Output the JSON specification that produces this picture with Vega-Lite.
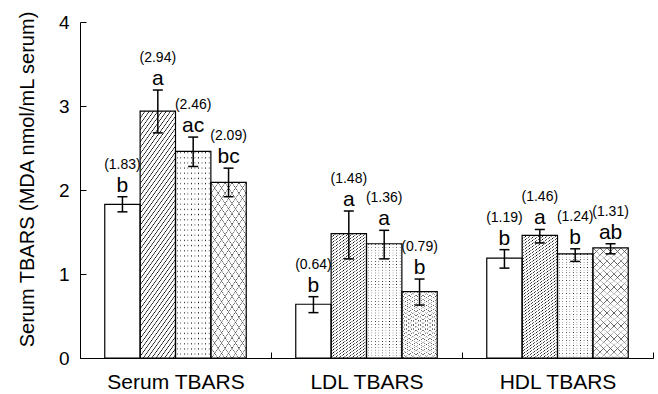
{
  "$schema": "https://vega.github.io/schema/vega-lite/v6.json",
  "width": 573,
  "height": 336,
  "autosize": {"type": "none"},
  "padding": {"left": 80, "top": 22, "right": 5, "bottom": 36},
  "background": "white",
  "config": {
    "view": {"stroke": null},
    "font": "Liberation Sans",
    "axis": {"domainColor": "black", "tickColor": "black", "labelColor": "black", "titleColor": "black", "grid": false, "domainWidth": 1, "tickWidth": 1, "labelFont": "Liberation Sans", "titleFont": "Liberation Sans"},
    "axisY": {"tickSize": -6, "labelPadding": 17, "labelFontSize": 19, "titleFontSize": 20, "titleFontWeight": "normal", "titleX": -47, "titleY": 157, "titleAngle": -90, "titleAlign": "center", "titleBaseline": "alphabetic", "tickCount": 5}
  },
  "data": {"values": [
    {"group": "Serum TBARS", "series": "A", "mean": 1.83, "lo": 1.74, "hi": 1.92, "letter": "b", "label": "(1.83)"},
    {"group": "Serum TBARS", "series": "B", "mean": 2.94, "lo": 2.68, "hi": 3.19, "letter": "a", "label": "(2.94)"},
    {"group": "Serum TBARS", "series": "C", "mean": 2.46, "lo": 2.28, "hi": 2.63, "letter": "ac", "label": "(2.46)"},
    {"group": "Serum TBARS", "series": "D", "mean": 2.09, "lo": 1.92, "hi": 2.26, "letter": "bc", "label": "(2.09)"},
    {"group": "LDL TBARS", "series": "A", "mean": 0.64, "lo": 0.54, "hi": 0.73, "letter": "b", "label": "(0.64)"},
    {"group": "LDL TBARS", "series": "B", "mean": 1.48, "lo": 1.18, "hi": 1.75, "letter": "a", "label": "(1.48)"},
    {"group": "LDL TBARS", "series": "C", "mean": 1.36, "lo": 1.18, "hi": 1.52, "letter": "a", "label": "(1.36)"},
    {"group": "LDL TBARS", "series": "D", "mean": 0.79, "lo": 0.63, "hi": 0.94, "letter": "b", "label": "(0.79)"},
    {"group": "HDL TBARS", "series": "A", "mean": 1.19, "lo": 1.07, "hi": 1.29, "letter": "b", "label": "(1.19)"},
    {"group": "HDL TBARS", "series": "B", "mean": 1.46, "lo": 1.37, "hi": 1.53, "letter": "a", "label": "(1.46)"},
    {"group": "HDL TBARS", "series": "C", "mean": 1.24, "lo": 1.15, "hi": 1.30, "letter": "b", "label": "(1.24)"},
    {"group": "HDL TBARS", "series": "D", "mean": 1.31, "lo": 1.24, "hi": 1.36, "letter": "ab", "label": "(1.31)"}
  ]},
  "encoding": {
    "x": {"field": "group", "type": "nominal", "sort": ["Serum TBARS", "LDL TBARS", "HDL TBARS"], "scale": {"paddingInner": 0, "paddingOuter": 0}, "axis": {"title": null, "tickBand": "extent", "labelAngle": 0, "labelFontSize": 21, "labelPadding": 19, "tickSize": -6}},
    "xOffset": {"field": "series", "type": "nominal", "sort": ["A", "B", "C", "D"], "scale": {"paddingOuter": 0.7, "paddingInner": 0}}
  },
  "layer": [
    {
      "transform": [{"filter": "datum.series === 'B'"}],
      "mark": {"type": "bar", "strokeWidth": 0, "fill": {"gradient": "linear", "x1": 0, "y1": 0, "x2": 0.232, "y2": 1.16, "stops": [
        {"offset": 0, "color": "#fff"}, {"offset": 0.0035, "color": "#000"}, {"offset": 0.007, "color": "#fff"},
        {"offset": 0.02, "color": "#fff"}, {"offset": 0.0235, "color": "#000"}, {"offset": 0.027, "color": "#fff"},
        {"offset": 0.04, "color": "#fff"}, {"offset": 0.0435, "color": "#000"}, {"offset": 0.047, "color": "#fff"},
        {"offset": 0.06, "color": "#fff"}, {"offset": 0.0635, "color": "#000"}, {"offset": 0.067, "color": "#fff"},
        {"offset": 0.08, "color": "#fff"}, {"offset": 0.0835, "color": "#000"}, {"offset": 0.087, "color": "#fff"},
        {"offset": 0.1, "color": "#fff"}, {"offset": 0.1035, "color": "#000"}, {"offset": 0.107, "color": "#fff"},
        {"offset": 0.12, "color": "#fff"}, {"offset": 0.1235, "color": "#000"}, {"offset": 0.127, "color": "#fff"},
        {"offset": 0.14, "color": "#fff"}, {"offset": 0.1435, "color": "#000"}, {"offset": 0.147, "color": "#fff"},
        {"offset": 0.16, "color": "#fff"}, {"offset": 0.1635, "color": "#000"}, {"offset": 0.167, "color": "#fff"},
        {"offset": 0.18, "color": "#fff"}, {"offset": 0.1835, "color": "#000"}, {"offset": 0.187, "color": "#fff"},
        {"offset": 0.2, "color": "#fff"}, {"offset": 0.2035, "color": "#000"}, {"offset": 0.207, "color": "#fff"},
        {"offset": 0.22, "color": "#fff"}, {"offset": 0.2235, "color": "#000"}, {"offset": 0.227, "color": "#fff"},
        {"offset": 0.24, "color": "#fff"}, {"offset": 0.2435, "color": "#000"}, {"offset": 0.247, "color": "#fff"},
        {"offset": 0.26, "color": "#fff"}, {"offset": 0.2635, "color": "#000"}, {"offset": 0.267, "color": "#fff"},
        {"offset": 0.28, "color": "#fff"}, {"offset": 0.2835, "color": "#000"}, {"offset": 0.287, "color": "#fff"},
        {"offset": 0.3, "color": "#fff"}, {"offset": 0.3035, "color": "#000"}, {"offset": 0.307, "color": "#fff"},
        {"offset": 0.32, "color": "#fff"}, {"offset": 0.3235, "color": "#000"}, {"offset": 0.327, "color": "#fff"},
        {"offset": 0.34, "color": "#fff"}, {"offset": 0.3435, "color": "#000"}, {"offset": 0.347, "color": "#fff"},
        {"offset": 0.36, "color": "#fff"}, {"offset": 0.3635, "color": "#000"}, {"offset": 0.367, "color": "#fff"},
        {"offset": 0.38, "color": "#fff"}, {"offset": 0.3835, "color": "#000"}, {"offset": 0.387, "color": "#fff"},
        {"offset": 0.4, "color": "#fff"}, {"offset": 0.4035, "color": "#000"}, {"offset": 0.407, "color": "#fff"},
        {"offset": 0.42, "color": "#fff"}, {"offset": 0.4235, "color": "#000"}, {"offset": 0.427, "color": "#fff"},
        {"offset": 0.44, "color": "#fff"}, {"offset": 0.4435, "color": "#000"}, {"offset": 0.447, "color": "#fff"},
        {"offset": 0.46, "color": "#fff"}, {"offset": 0.4635, "color": "#000"}, {"offset": 0.467, "color": "#fff"},
        {"offset": 0.48, "color": "#fff"}, {"offset": 0.4835, "color": "#000"}, {"offset": 0.487, "color": "#fff"},
        {"offset": 0.5, "color": "#fff"}, {"offset": 0.5035, "color": "#000"}, {"offset": 0.507, "color": "#fff"},
        {"offset": 0.52, "color": "#fff"}, {"offset": 0.5235, "color": "#000"}, {"offset": 0.527, "color": "#fff"},
        {"offset": 0.54, "color": "#fff"}, {"offset": 0.5435, "color": "#000"}, {"offset": 0.547, "color": "#fff"},
        {"offset": 0.56, "color": "#fff"}, {"offset": 0.5635, "color": "#000"}, {"offset": 0.567, "color": "#fff"},
        {"offset": 0.58, "color": "#fff"}, {"offset": 0.5835, "color": "#000"}, {"offset": 0.587, "color": "#fff"},
        {"offset": 0.6, "color": "#fff"}, {"offset": 0.6035, "color": "#000"}, {"offset": 0.607, "color": "#fff"},
        {"offset": 0.62, "color": "#fff"}, {"offset": 0.6235, "color": "#000"}, {"offset": 0.627, "color": "#fff"},
        {"offset": 0.64, "color": "#fff"}, {"offset": 0.6435, "color": "#000"}, {"offset": 0.647, "color": "#fff"},
        {"offset": 0.66, "color": "#fff"}, {"offset": 0.6635, "color": "#000"}, {"offset": 0.667, "color": "#fff"},
        {"offset": 0.68, "color": "#fff"}, {"offset": 0.6835, "color": "#000"}, {"offset": 0.687, "color": "#fff"},
        {"offset": 0.7, "color": "#fff"}, {"offset": 0.7035, "color": "#000"}, {"offset": 0.707, "color": "#fff"},
        {"offset": 0.72, "color": "#fff"}, {"offset": 0.7235, "color": "#000"}, {"offset": 0.727, "color": "#fff"},
        {"offset": 0.74, "color": "#fff"}, {"offset": 0.7435, "color": "#000"}, {"offset": 0.747, "color": "#fff"},
        {"offset": 0.76, "color": "#fff"}, {"offset": 0.7635, "color": "#000"}, {"offset": 0.767, "color": "#fff"},
        {"offset": 0.78, "color": "#fff"}, {"offset": 0.7835, "color": "#000"}, {"offset": 0.787, "color": "#fff"},
        {"offset": 0.8, "color": "#fff"}, {"offset": 0.8035, "color": "#000"}, {"offset": 0.807, "color": "#fff"},
        {"offset": 0.82, "color": "#fff"}, {"offset": 0.8235, "color": "#000"}, {"offset": 0.827, "color": "#fff"},
        {"offset": 0.84, "color": "#fff"}, {"offset": 0.8435, "color": "#000"}, {"offset": 0.847, "color": "#fff"},
        {"offset": 0.86, "color": "#fff"}, {"offset": 0.8635, "color": "#000"}, {"offset": 0.867, "color": "#fff"},
        {"offset": 0.88, "color": "#fff"}, {"offset": 0.8835, "color": "#000"}, {"offset": 0.887, "color": "#fff"},
        {"offset": 0.9, "color": "#fff"}, {"offset": 0.9035, "color": "#000"}, {"offset": 0.907, "color": "#fff"},
        {"offset": 0.92, "color": "#fff"}, {"offset": 0.9235, "color": "#000"}, {"offset": 0.927, "color": "#fff"},
        {"offset": 0.94, "color": "#fff"}, {"offset": 0.9435, "color": "#000"}, {"offset": 0.947, "color": "#fff"},
        {"offset": 0.96, "color": "#fff"}, {"offset": 0.9635, "color": "#000"}, {"offset": 0.967, "color": "#fff"},
        {"offset": 0.98, "color": "#fff"}, {"offset": 0.9835, "color": "#000"}, {"offset": 0.987, "color": "#fff"}
      ]}},
      "encoding": {"y": {"field": "mean", "type": "quantitative", "title": "Serum TBARS (MDA nmol/mL serum)", "scale": {"domain": [0, 4], "nice": false}}}
    },
    {
      "transform": [{"filter": "datum.series === 'C'"}],
      "mark": {"type": "bar", "strokeWidth": 0, "fill": {"gradient": "linear", "x1": 0, "y1": 0, "x2": 1, "y2": 0, "stops": [
        {"offset": 0.03, "color": "#fff"}, {"offset": 0.05, "color": "#000"}, {"offset": 0.07, "color": "#fff"},
        {"offset": 0.13, "color": "#fff"}, {"offset": 0.15, "color": "#000"}, {"offset": 0.17, "color": "#fff"},
        {"offset": 0.23, "color": "#fff"}, {"offset": 0.25, "color": "#000"}, {"offset": 0.27, "color": "#fff"},
        {"offset": 0.33, "color": "#fff"}, {"offset": 0.35, "color": "#000"}, {"offset": 0.37, "color": "#fff"},
        {"offset": 0.43, "color": "#fff"}, {"offset": 0.45, "color": "#000"}, {"offset": 0.47, "color": "#fff"},
        {"offset": 0.53, "color": "#fff"}, {"offset": 0.55, "color": "#000"}, {"offset": 0.57, "color": "#fff"},
        {"offset": 0.63, "color": "#fff"}, {"offset": 0.65, "color": "#000"}, {"offset": 0.67, "color": "#fff"},
        {"offset": 0.73, "color": "#fff"}, {"offset": 0.75, "color": "#000"}, {"offset": 0.77, "color": "#fff"},
        {"offset": 0.83, "color": "#fff"}, {"offset": 0.85, "color": "#000"}, {"offset": 0.87, "color": "#fff"},
        {"offset": 0.93, "color": "#fff"}, {"offset": 0.95, "color": "#000"}, {"offset": 0.97, "color": "#fff"}
      ]}},
      "encoding": {"y": {"field": "mean", "type": "quantitative", "title": "Serum TBARS (MDA nmol/mL serum)", "scale": {"domain": [0, 4], "nice": false}}}
    },
    {
      "transform": [{"filter": "datum.series === 'C'"}],
      "mark": {"type": "bar", "strokeWidth": 0, "fill": {"gradient": "linear", "x1": 0, "y1": 0, "x2": 0, "y2": 1, "stops": [
        {"offset": 0, "color": "#fff"}, {"offset": 0.006, "color": "rgba(255,255,255,0)"}, {"offset": 0.012, "color": "#fff"},
        {"offset": 0.025, "color": "#fff"}, {"offset": 0.031, "color": "rgba(255,255,255,0)"}, {"offset": 0.037, "color": "#fff"},
        {"offset": 0.05, "color": "#fff"}, {"offset": 0.056, "color": "rgba(255,255,255,0)"}, {"offset": 0.062, "color": "#fff"},
        {"offset": 0.075, "color": "#fff"}, {"offset": 0.081, "color": "rgba(255,255,255,0)"}, {"offset": 0.087, "color": "#fff"},
        {"offset": 0.1, "color": "#fff"}, {"offset": 0.106, "color": "rgba(255,255,255,0)"}, {"offset": 0.112, "color": "#fff"},
        {"offset": 0.125, "color": "#fff"}, {"offset": 0.131, "color": "rgba(255,255,255,0)"}, {"offset": 0.137, "color": "#fff"},
        {"offset": 0.15, "color": "#fff"}, {"offset": 0.156, "color": "rgba(255,255,255,0)"}, {"offset": 0.162, "color": "#fff"},
        {"offset": 0.175, "color": "#fff"}, {"offset": 0.181, "color": "rgba(255,255,255,0)"}, {"offset": 0.187, "color": "#fff"},
        {"offset": 0.2, "color": "#fff"}, {"offset": 0.206, "color": "rgba(255,255,255,0)"}, {"offset": 0.212, "color": "#fff"},
        {"offset": 0.225, "color": "#fff"}, {"offset": 0.231, "color": "rgba(255,255,255,0)"}, {"offset": 0.237, "color": "#fff"},
        {"offset": 0.25, "color": "#fff"}, {"offset": 0.256, "color": "rgba(255,255,255,0)"}, {"offset": 0.262, "color": "#fff"},
        {"offset": 0.275, "color": "#fff"}, {"offset": 0.281, "color": "rgba(255,255,255,0)"}, {"offset": 0.287, "color": "#fff"},
        {"offset": 0.3, "color": "#fff"}, {"offset": 0.306, "color": "rgba(255,255,255,0)"}, {"offset": 0.312, "color": "#fff"},
        {"offset": 0.325, "color": "#fff"}, {"offset": 0.331, "color": "rgba(255,255,255,0)"}, {"offset": 0.337, "color": "#fff"},
        {"offset": 0.35, "color": "#fff"}, {"offset": 0.356, "color": "rgba(255,255,255,0)"}, {"offset": 0.362, "color": "#fff"},
        {"offset": 0.375, "color": "#fff"}, {"offset": 0.381, "color": "rgba(255,255,255,0)"}, {"offset": 0.387, "color": "#fff"},
        {"offset": 0.4, "color": "#fff"}, {"offset": 0.406, "color": "rgba(255,255,255,0)"}, {"offset": 0.412, "color": "#fff"},
        {"offset": 0.425, "color": "#fff"}, {"offset": 0.431, "color": "rgba(255,255,255,0)"}, {"offset": 0.437, "color": "#fff"},
        {"offset": 0.45, "color": "#fff"}, {"offset": 0.456, "color": "rgba(255,255,255,0)"}, {"offset": 0.462, "color": "#fff"},
        {"offset": 0.475, "color": "#fff"}, {"offset": 0.481, "color": "rgba(255,255,255,0)"}, {"offset": 0.487, "color": "#fff"},
        {"offset": 0.5, "color": "#fff"}, {"offset": 0.506, "color": "rgba(255,255,255,0)"}, {"offset": 0.512, "color": "#fff"},
        {"offset": 0.525, "color": "#fff"}, {"offset": 0.531, "color": "rgba(255,255,255,0)"}, {"offset": 0.537, "color": "#fff"},
        {"offset": 0.55, "color": "#fff"}, {"offset": 0.556, "color": "rgba(255,255,255,0)"}, {"offset": 0.562, "color": "#fff"},
        {"offset": 0.575, "color": "#fff"}, {"offset": 0.581, "color": "rgba(255,255,255,0)"}, {"offset": 0.587, "color": "#fff"},
        {"offset": 0.6, "color": "#fff"}, {"offset": 0.606, "color": "rgba(255,255,255,0)"}, {"offset": 0.612, "color": "#fff"},
        {"offset": 0.625, "color": "#fff"}, {"offset": 0.631, "color": "rgba(255,255,255,0)"}, {"offset": 0.637, "color": "#fff"},
        {"offset": 0.65, "color": "#fff"}, {"offset": 0.656, "color": "rgba(255,255,255,0)"}, {"offset": 0.662, "color": "#fff"},
        {"offset": 0.675, "color": "#fff"}, {"offset": 0.681, "color": "rgba(255,255,255,0)"}, {"offset": 0.687, "color": "#fff"},
        {"offset": 0.7, "color": "#fff"}, {"offset": 0.706, "color": "rgba(255,255,255,0)"}, {"offset": 0.712, "color": "#fff"},
        {"offset": 0.725, "color": "#fff"}, {"offset": 0.731, "color": "rgba(255,255,255,0)"}, {"offset": 0.737, "color": "#fff"},
        {"offset": 0.75, "color": "#fff"}, {"offset": 0.756, "color": "rgba(255,255,255,0)"}, {"offset": 0.762, "color": "#fff"},
        {"offset": 0.775, "color": "#fff"}, {"offset": 0.781, "color": "rgba(255,255,255,0)"}, {"offset": 0.787, "color": "#fff"},
        {"offset": 0.8, "color": "#fff"}, {"offset": 0.806, "color": "rgba(255,255,255,0)"}, {"offset": 0.812, "color": "#fff"},
        {"offset": 0.825, "color": "#fff"}, {"offset": 0.831, "color": "rgba(255,255,255,0)"}, {"offset": 0.837, "color": "#fff"},
        {"offset": 0.85, "color": "#fff"}, {"offset": 0.856, "color": "rgba(255,255,255,0)"}, {"offset": 0.862, "color": "#fff"},
        {"offset": 0.875, "color": "#fff"}, {"offset": 0.881, "color": "rgba(255,255,255,0)"}, {"offset": 0.887, "color": "#fff"},
        {"offset": 0.9, "color": "#fff"}, {"offset": 0.906, "color": "rgba(255,255,255,0)"}, {"offset": 0.912, "color": "#fff"},
        {"offset": 0.925, "color": "#fff"}, {"offset": 0.931, "color": "rgba(255,255,255,0)"}, {"offset": 0.937, "color": "#fff"},
        {"offset": 0.95, "color": "#fff"}, {"offset": 0.956, "color": "rgba(255,255,255,0)"}, {"offset": 0.962, "color": "#fff"},
        {"offset": 0.975, "color": "#fff"}, {"offset": 0.981, "color": "rgba(255,255,255,0)"}, {"offset": 0.987, "color": "#fff"}
      ]}},
      "encoding": {"y": {"field": "mean", "type": "quantitative", "title": "Serum TBARS (MDA nmol/mL serum)", "scale": {"domain": [0, 4], "nice": false}}}
    },
    {
      "transform": [{"filter": "datum.series === 'D'"}],
      "mark": {"type": "bar", "strokeWidth": 0, "fill": {"gradient": "linear", "x1": 0, "y1": 0, "x2": 0.36, "y2": 1.2, "stops": [
        {"offset": 0, "color": "#fff"}, {"offset": 0.004, "color": "#555"}, {"offset": 0.008, "color": "#fff"},
        {"offset": 0.045, "color": "#fff"}, {"offset": 0.049, "color": "#555"}, {"offset": 0.053, "color": "#fff"},
        {"offset": 0.09, "color": "#fff"}, {"offset": 0.094, "color": "#555"}, {"offset": 0.098, "color": "#fff"},
        {"offset": 0.135, "color": "#fff"}, {"offset": 0.139, "color": "#555"}, {"offset": 0.143, "color": "#fff"},
        {"offset": 0.18, "color": "#fff"}, {"offset": 0.184, "color": "#555"}, {"offset": 0.188, "color": "#fff"},
        {"offset": 0.225, "color": "#fff"}, {"offset": 0.229, "color": "#555"}, {"offset": 0.233, "color": "#fff"},
        {"offset": 0.27, "color": "#fff"}, {"offset": 0.274, "color": "#555"}, {"offset": 0.278, "color": "#fff"},
        {"offset": 0.315, "color": "#fff"}, {"offset": 0.319, "color": "#555"}, {"offset": 0.323, "color": "#fff"},
        {"offset": 0.36, "color": "#fff"}, {"offset": 0.364, "color": "#555"}, {"offset": 0.368, "color": "#fff"},
        {"offset": 0.405, "color": "#fff"}, {"offset": 0.409, "color": "#555"}, {"offset": 0.413, "color": "#fff"},
        {"offset": 0.45, "color": "#fff"}, {"offset": 0.454, "color": "#555"}, {"offset": 0.458, "color": "#fff"},
        {"offset": 0.495, "color": "#fff"}, {"offset": 0.499, "color": "#555"}, {"offset": 0.503, "color": "#fff"},
        {"offset": 0.54, "color": "#fff"}, {"offset": 0.544, "color": "#555"}, {"offset": 0.548, "color": "#fff"},
        {"offset": 0.585, "color": "#fff"}, {"offset": 0.589, "color": "#555"}, {"offset": 0.593, "color": "#fff"},
        {"offset": 0.63, "color": "#fff"}, {"offset": 0.634, "color": "#555"}, {"offset": 0.638, "color": "#fff"},
        {"offset": 0.675, "color": "#fff"}, {"offset": 0.679, "color": "#555"}, {"offset": 0.683, "color": "#fff"},
        {"offset": 0.72, "color": "#fff"}, {"offset": 0.724, "color": "#555"}, {"offset": 0.728, "color": "#fff"},
        {"offset": 0.765, "color": "#fff"}, {"offset": 0.769, "color": "#555"}, {"offset": 0.773, "color": "#fff"},
        {"offset": 0.81, "color": "#fff"}, {"offset": 0.814, "color": "#555"}, {"offset": 0.818, "color": "#fff"},
        {"offset": 0.855, "color": "#fff"}, {"offset": 0.859, "color": "#555"}, {"offset": 0.863, "color": "#fff"},
        {"offset": 0.9, "color": "#fff"}, {"offset": 0.904, "color": "#555"}, {"offset": 0.908, "color": "#fff"},
        {"offset": 0.945, "color": "#fff"}, {"offset": 0.949, "color": "#555"}, {"offset": 0.953, "color": "#fff"},
        {"offset": 0.99, "color": "#fff"}, {"offset": 0.994, "color": "#555"}, {"offset": 0.998, "color": "#fff"}
      ]}},
      "encoding": {"y": {"field": "mean", "type": "quantitative", "title": "Serum TBARS (MDA nmol/mL serum)", "scale": {"domain": [0, 4], "nice": false}}}
    },
    {
      "transform": [{"filter": "datum.series === 'D'"}],
      "mark": {"type": "bar", "strokeWidth": 0, "fill": {"gradient": "linear", "x1": 1, "y1": 0, "x2": 0.64, "y2": 1.2, "stops": [
        {"offset": 0, "color": "rgba(85,85,85,0)"}, {"offset": 0.004, "color": "#555"}, {"offset": 0.008, "color": "rgba(85,85,85,0)"},
        {"offset": 0.045, "color": "rgba(85,85,85,0)"}, {"offset": 0.049, "color": "#555"}, {"offset": 0.053, "color": "rgba(85,85,85,0)"},
        {"offset": 0.09, "color": "rgba(85,85,85,0)"}, {"offset": 0.094, "color": "#555"}, {"offset": 0.098, "color": "rgba(85,85,85,0)"},
        {"offset": 0.135, "color": "rgba(85,85,85,0)"}, {"offset": 0.139, "color": "#555"}, {"offset": 0.143, "color": "rgba(85,85,85,0)"},
        {"offset": 0.18, "color": "rgba(85,85,85,0)"}, {"offset": 0.184, "color": "#555"}, {"offset": 0.188, "color": "rgba(85,85,85,0)"},
        {"offset": 0.225, "color": "rgba(85,85,85,0)"}, {"offset": 0.229, "color": "#555"}, {"offset": 0.233, "color": "rgba(85,85,85,0)"},
        {"offset": 0.27, "color": "rgba(85,85,85,0)"}, {"offset": 0.274, "color": "#555"}, {"offset": 0.278, "color": "rgba(85,85,85,0)"},
        {"offset": 0.315, "color": "rgba(85,85,85,0)"}, {"offset": 0.319, "color": "#555"}, {"offset": 0.323, "color": "rgba(85,85,85,0)"},
        {"offset": 0.36, "color": "rgba(85,85,85,0)"}, {"offset": 0.364, "color": "#555"}, {"offset": 0.368, "color": "rgba(85,85,85,0)"},
        {"offset": 0.405, "color": "rgba(85,85,85,0)"}, {"offset": 0.409, "color": "#555"}, {"offset": 0.413, "color": "rgba(85,85,85,0)"},
        {"offset": 0.45, "color": "rgba(85,85,85,0)"}, {"offset": 0.454, "color": "#555"}, {"offset": 0.458, "color": "rgba(85,85,85,0)"},
        {"offset": 0.495, "color": "rgba(85,85,85,0)"}, {"offset": 0.499, "color": "#555"}, {"offset": 0.503, "color": "rgba(85,85,85,0)"},
        {"offset": 0.54, "color": "rgba(85,85,85,0)"}, {"offset": 0.544, "color": "#555"}, {"offset": 0.548, "color": "rgba(85,85,85,0)"},
        {"offset": 0.585, "color": "rgba(85,85,85,0)"}, {"offset": 0.589, "color": "#555"}, {"offset": 0.593, "color": "rgba(85,85,85,0)"},
        {"offset": 0.63, "color": "rgba(85,85,85,0)"}, {"offset": 0.634, "color": "#555"}, {"offset": 0.638, "color": "rgba(85,85,85,0)"},
        {"offset": 0.675, "color": "rgba(85,85,85,0)"}, {"offset": 0.679, "color": "#555"}, {"offset": 0.683, "color": "rgba(85,85,85,0)"},
        {"offset": 0.72, "color": "rgba(85,85,85,0)"}, {"offset": 0.724, "color": "#555"}, {"offset": 0.728, "color": "rgba(85,85,85,0)"},
        {"offset": 0.765, "color": "rgba(85,85,85,0)"}, {"offset": 0.769, "color": "#555"}, {"offset": 0.773, "color": "rgba(85,85,85,0)"},
        {"offset": 0.81, "color": "rgba(85,85,85,0)"}, {"offset": 0.814, "color": "#555"}, {"offset": 0.818, "color": "rgba(85,85,85,0)"},
        {"offset": 0.855, "color": "rgba(85,85,85,0)"}, {"offset": 0.859, "color": "#555"}, {"offset": 0.863, "color": "rgba(85,85,85,0)"},
        {"offset": 0.9, "color": "rgba(85,85,85,0)"}, {"offset": 0.904, "color": "#555"}, {"offset": 0.908, "color": "rgba(85,85,85,0)"},
        {"offset": 0.945, "color": "rgba(85,85,85,0)"}, {"offset": 0.949, "color": "#555"}, {"offset": 0.953, "color": "rgba(85,85,85,0)"},
        {"offset": 0.99, "color": "rgba(85,85,85,0)"}, {"offset": 0.994, "color": "#555"}, {"offset": 0.998, "color": "rgba(85,85,85,0)"}
      ]}},
      "encoding": {"y": {"field": "mean", "type": "quantitative", "title": "Serum TBARS (MDA nmol/mL serum)", "scale": {"domain": [0, 4], "nice": false}}}
    },
    {
      "mark": {"type": "bar", "fill": "transparent", "stroke": "black", "strokeWidth": 1.2},
      "encoding": {"y": {"field": "mean", "type": "quantitative", "title": "Serum TBARS (MDA nmol/mL serum)", "scale": {"domain": [0, 4], "nice": false}}}
    },
    {
      "mark": {"type": "rule", "color": "black", "strokeWidth": 1.5},
      "encoding": {"y": {"field": "lo", "type": "quantitative", "title": "Serum TBARS (MDA nmol/mL serum)"}, "y2": {"field": "hi"}}
    },
    {
      "mark": {"type": "tick", "color": "black", "thickness": 1.5, "size": 10, "opacity": 1},
      "encoding": {"y": {"field": "lo", "type": "quantitative", "title": "Serum TBARS (MDA nmol/mL serum)"}}
    },
    {
      "mark": {"type": "tick", "color": "black", "thickness": 1.5, "size": 10, "opacity": 1},
      "encoding": {"y": {"field": "hi", "type": "quantitative", "title": "Serum TBARS (MDA nmol/mL serum)"}}
    },
    {
      "mark": {"type": "text", "color": "black", "fontSize": 21, "baseline": "alphabetic", "align": "center", "dy": -5, "font": "Liberation Sans"},
      "encoding": {"y": {"field": "hi", "type": "quantitative", "title": "Serum TBARS (MDA nmol/mL serum)"}, "text": {"field": "letter"}}
    },
    {
      "mark": {"type": "text", "color": "black", "fontSize": 14, "baseline": "alphabetic", "align": "center", "dy": -28, "font": "Liberation Sans"},
      "encoding": {"y": {"field": "hi", "type": "quantitative", "title": "Serum TBARS (MDA nmol/mL serum)"}, "text": {"field": "label"}}
    }
  ]
}
